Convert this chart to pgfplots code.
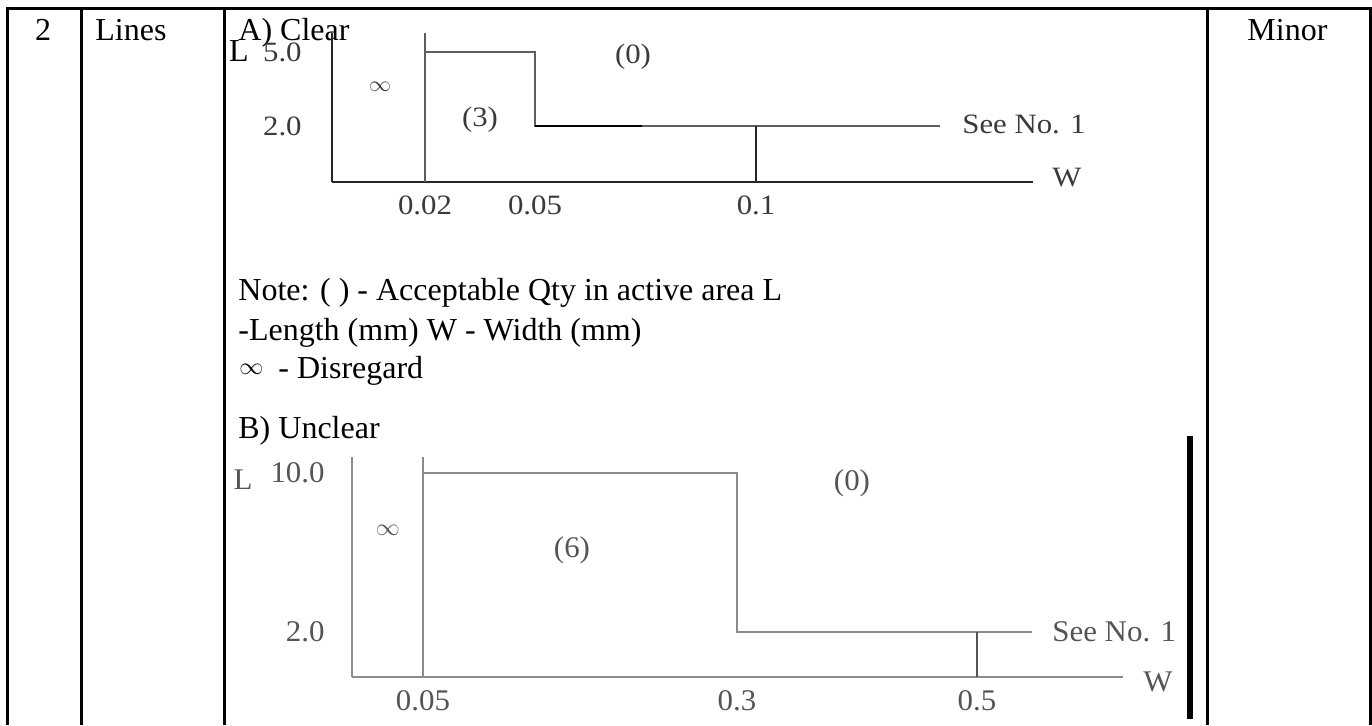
\documentclass[border=0pt]{standalone}
\usepackage{fontspec}
\setmainfont{Liberation Serif}
\newfontfamily\tabfontfam{Liberation Serif}
\newfontfamily\afontfam{Liberation Serif}[FakeStretch=1.1]
\newfontfamily\bfontfam{Liberation Serif}[FakeStretch=1.03]
\newcommand\tabfont{\tabfontfam\fontsize{16}{19}\selectfont}
\newcommand\afont{\afontfam\fontsize{14}{17}\selectfont}
\newcommand\bfont{\bfontfam\fontsize{15}{18}\selectfont}
\usepackage{pgfplots}
\pgfplotsset{compat=1.18}
\definecolor{aline}{HTML}{5E5E5E}
\definecolor{adark}{HTML}{262626}
\definecolor{atext}{HTML}{3A3A3A}
\definecolor{bline}{HTML}{8C8C8C}
\definecolor{btext}{HTML}{555555}
\begin{document}
\begin{tikzpicture}[x=0.5pt,y=0.5pt]
\useasboundingbox (0,0) rectangle (1372,-725);
% table frame
\begin{scope}[line width=1.5pt]
\draw (6,-8) -- (1372,-8);
\foreach \x in {7.5,81,224,1207,1370} \draw (\x,-8) -- (\x,-725);
\end{scope}
\draw[line width=3pt] (1190,-436) -- (1190,-719);
% table text
\begin{scope}[every node/.style={inner sep=0pt, font=\tabfont}]
\node[anchor=base] at (43,-40) {2};
\node[anchor=base west] at (95,-40) {Lines};
\node[anchor=base west] at (238,-40) {A) Clear};
\node[anchor=base west] at (1247,-40) {Minor};
\node[anchor=base west] at (238,-300) {Note: ( ) - Acceptable Qty in active area L};
\node[anchor=base west] at (238,-340) {-Length (mm) W - Width (mm)};
\node[anchor=west, font=\fontsize{12.5}{14}\selectfont] at (239,-369) {$\infty$};
\node[anchor=base west] at (278,-378) {- Disregard};
\node[anchor=base west] at (238,-438) {B) Unclear};
\end{scope}

% ---------- Diagram A: Clear ----------
\begin{axis}[
  at={(166pt,-91pt)}, anchor=south west,
  scale only axis, width=350.5pt, height=74.5pt,
  xmin=0, xmax=701, ymin=0, ymax=149,
  axis lines=left,
  axis line style={-, draw=adark, line width=1pt},
  xtick={93,203,424}, xticklabels={0.02,0.05,0.1},
  ytick={130,56}, yticklabels={5.0,2.0},
  major tick length=0pt, tick style={draw=none},
  xticklabel style={anchor=center, yshift=-11.5pt, inner sep=0pt, font=\afont, text=atext},
  yticklabel style={anchor=east, xshift=-15pt, inner sep=0pt, font=\afont, text=atext},
  clip=false]
\addplot[draw=aline, line width=1pt] coordinates {(93,0) (93,149)};
\addplot[draw=aline, line width=1pt] coordinates {(93,130) (203,130) (203,56) (608,56)};
\addplot[draw=black, line width=1pt] coordinates {(203,56) (310,56)};
\addplot[draw=adark, line width=1pt] coordinates {(424,56) (424,0)};
\node[font=\tabfont, inner sep=0pt] at (axis cs:-93,131) {L};
\node[font=\fontsize{10.5}{12}\selectfont, text=atext] at (axis cs:48,95) {$\infty$};
\node[font=\afont, text=atext] at (axis cs:148,62) {(3)};
\node[font=\afont, text=atext] at (axis cs:301,125) {(0)};
\node[font=\afont, text=atext, anchor=west, inner sep=0pt] at (axis cs:630,58) {See No. 1};
\node[font=\afont, text=atext, anchor=west, inner sep=0pt] at (axis cs:720,4) {W};
\end{axis}

% ---------- Diagram B: Unclear ----------
\begin{axis}[
  at={(176pt,-338.5pt)}, anchor=south west,
  scale only axis, width=385.5pt, height=110pt,
  xmin=0, xmax=771, ymin=0, ymax=220,
  axis lines=left,
  axis line style={-, draw=bline, line width=0.8pt},
  xtick={71,385,625}, xticklabels={0.05,0.3,0.5},
  ytick={204,45}, yticklabels={10.0,2.0},
  major tick length=0pt, tick style={draw=none},
  xticklabel style={anchor=center, yshift=-12pt, inner sep=0pt, font=\bfont, text=btext},
  yticklabel style={anchor=east, xshift=-13.5pt, inner sep=0pt, font=\bfont, text=btext},
  clip=false]
\addplot[draw=bline, line width=0.8pt] coordinates {(71,0) (71,220)};
\addplot[draw=bline, line width=0.8pt] coordinates {(71,204) (385,204) (385,45) (680,45)};
\addplot[draw=btext, line width=0.8pt] coordinates {(625,45) (625,0)};
\node[font=\bfont, text=btext, inner sep=0pt] at (axis cs:-109,197) {L};
\node[font=\fontsize{12.5}{14}\selectfont, text=btext] at (axis cs:36,147) {$\infty$};
\node[font=\bfont, text=btext] at (axis cs:220,127) {(6)};
\node[font=\bfont, text=btext] at (axis cs:500,194) {(0)};
\node[font=\bfont, text=btext, anchor=west, inner sep=0pt] at (axis cs:700,45) {See No. 1};
\node[font=\bfont, text=btext, anchor=west, inner sep=0pt] at (axis cs:791,-5) {W};
\end{axis}
\end{tikzpicture}
\end{document}
